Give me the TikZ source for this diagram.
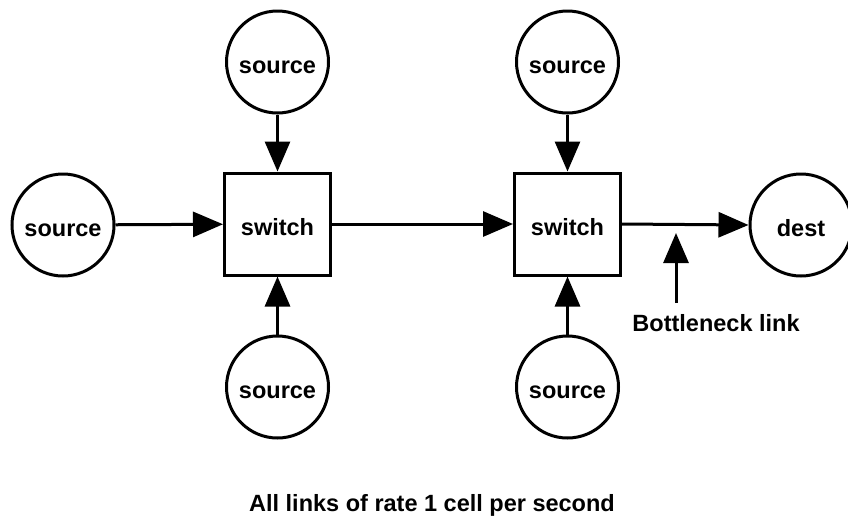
\documentclass[tikz,border=0pt]{standalone}
\usepackage{fontspec}
\setmainfont{Liberation Sans}
\usetikzlibrary{arrows.meta,positioning}
\tikzset{
  src/.style={draw,circle,line width=3pt,minimum size=102pt,inner sep=0pt,text height=22pt,text depth=0pt},
  sw/.style={draw,rectangle,line width=3pt,minimum width=106pt,minimum height=102pt,inner sep=0pt,text height=22pt,text depth=0pt},
  lnk/.style={line width=3pt,-{Triangle[length=30pt,width=25pt]}},
  every node/.style={font=\bfseries\fontsize{23.5}{28}\selectfont}
}
\begin{document}
\begin{tikzpicture}[x=1pt,y=-1pt]
\useasboundingbox (0,0) rectangle (848,517);
\node[sw](sw1)at(277.5,224){switch};
\node[sw](sw2)at(567.5,224){switch};
\node[src](dest)at(801,225){dest};
\foreach \n/\x/\y in {in/63/225,t1/277.5/62,b1/277.5/387,t2/567.5/62,b2/567.5/387}
  \node[src](\n)at(\x,\y){source};
\draw[lnk](in)--(sw1);
\draw[lnk](t1)--(sw1);\draw[lnk](b1)--(sw1);
\draw[lnk](t2)--(sw2);\draw[lnk](b2)--(sw2);
\draw[lnk](sw1)--(sw2);
\draw[lnk](sw2.east)--(dest.west);
% bottleneck marker
\node(bl)at(716,323){Bottleneck link};
\coordinate(bnb)at(676,303);
\coordinate(bnt)at(676,233);
\draw[lnk](bnb)--(bnt);
\node(cap)at(432,505){All links of rate 1 cell per second};
\end{tikzpicture}
\end{document}
